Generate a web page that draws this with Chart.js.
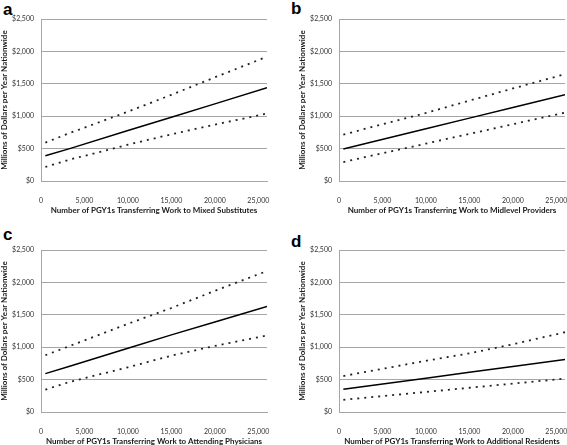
<!DOCTYPE html>
<html>
<head>
<meta charset="utf-8">
<script src="https://cdn.jsdelivr.net/npm/chart.js@4/dist/chart.umd.min.js"></script>
<style>
  body { margin: 0; background: #fff; width: 567px; height: 445px; position: relative; overflow: hidden; }
  canvas { position: absolute; }
  .letter { position: absolute; font: bold 17px 'Liberation Sans', Arial, sans-serif; line-height: 17px; color: #000; }
</style>
</head>
<body>
<div class="letter" style="left:3px;top:1px">a</div>
<div class="letter" style="left:291px;top:0px">b</div>
<div class="letter" style="left:3px;top:226px">c</div>
<div class="letter" style="left:291px;top:233px">d</div>
<canvas id="chartA" width="283" height="222" style="left:0px;top:0px"></canvas>
<canvas id="chartB" width="283" height="222" style="left:298px;top:0px"></canvas>
<canvas id="chartC" width="283" height="222" style="left:0px;top:231px"></canvas>
<canvas id="chartD" width="283" height="222" style="left:298px;top:231px"></canvas>
<script>
// x positions where the curves were read (number of PGY1s)
const xValues = [500, 3300, 10000, 15000, 20000, 26000];

// millions of dollars per year
const aMid   = [390, 500, 780, 985, 1190, 1440];
const aUpper = [593, 740, 1070, 1330, 1600, 1918];
const aLower = [216, 330, 560, 720, 870, 1041];

const bMid   = [495, 585, 805, 970, 1135, 1330];
const bUpper = [714, 817, 1050, 1240, 1428, 1648];
const bLower = [293, 377, 577, 727, 876, 1056];

const cMid   = [592, 705, 985, 1190, 1390, 1627];
const cUpper = [876, 1019, 1360, 1605, 1870, 2175];
const cLower = [345, 465, 690, 870, 1020, 1180];

const dMid   = [352, 402, 522, 612, 702, 809];
const dUpper = [555, 625, 790, 905, 1045, 1231];
const dLower = [188, 224, 310, 374, 438, 515];

const xTicks = [0, 5000, 10000, 15000, 20000, 25000];
const yTicks = [0, 500, 1000, 1500, 2000, 2500];

const xTitles = [
    'Number of PGY1s Transferring Work to Mixed Substitutes',
    'Number of PGY1s Transferring Work to Midlevel Providers',
    'Number of PGY1s Transferring Work to Attending Physicians',
    'Number of PGY1s Transferring Work to Additional Residents'
];
const yTitle = 'Millions of Dollars per Year Nationwide';

function points(values) {
    return xValues.map((x, i) => ({ x: x, y: values[i] }));
}

function makeChart(id, mid, upper, lower, xTitle) {
    const dashed = { borderColor: '#222', borderWidth: 1.8, borderDash: [2, 5], pointRadius: 0, tension: 0, fill: false };
    new Chart(document.getElementById(id).getContext('2d'), {
        type: 'line',
        data: {
            datasets: [
                { data: points(upper), ...dashed },
                { data: points(mid), borderColor: '#000', borderWidth: 1.5, pointRadius: 0, tension: 0, fill: false },
                { data: points(lower), ...dashed }
            ]
        },
        options: {
            responsive: false,
            animation: false,
            devicePixelRatio: 1,
            layout: { padding: { top: 19, right: 16, left: 0, bottom: 0 } },
            plugins: { legend: { display: false }, tooltip: { enabled: false } },
            scales: {
                x: {
                    type: 'linear',
                    min: 0,
                    max: 26000,
                    afterBuildTicks: s => { s.ticks = xTicks.map(v => ({ value: v })); },
                    afterFit: s => { s.height = 41; },
                    grid: { display: false },
                    border: { display: true, color: '#a6a6a6' },
                    ticks: {
                        padding: 8,
                        maxRotation: 0,
                        color: '#333',
                        font: { family: 'Lato', size: 7 },
                        callback: v => v.toLocaleString('en-US')
                    },
                    title: {
                        display: true,
                        text: xTitle,
                        color: '#1a1a1a',
                        padding: { top: 0, bottom: 7 },
                        font: { family: 'Lato', size: 8, weight: 'bold' }
                    }
                },
                y: {
                    min: 0,
                    max: 2500,
                    afterBuildTicks: s => { s.ticks = yTicks.map(v => ({ value: v })); },
                    afterFit: s => { s.width = 41; },
                    grid: { color: '#a6a6a6', lineWidth: 1, drawTicks: false },
                    border: { display: true, color: '#a6a6a6' },
                    ticks: {
                        padding: 7,
                        color: '#333',
                        font: { family: 'Lato', size: 7 },
                        callback: v => '$' + v.toLocaleString('en-US')
                    },
                    title: {
                        display: true,
                        text: yTitle,
                        color: '#1a1a1a',
                        padding: { top: 0, bottom: 0 },
                        font: { family: 'Lato', size: 8, weight: 'bold' }
                    }
                }
            }
        }
    });
}

makeChart('chartA', aMid, aUpper, aLower, xTitles[0]);
makeChart('chartB', bMid, bUpper, bLower, xTitles[1]);
makeChart('chartC', cMid, cUpper, cLower, xTitles[2]);
makeChart('chartD', dMid, dUpper, dLower, xTitles[3]);
</script>
</body>
</html>
